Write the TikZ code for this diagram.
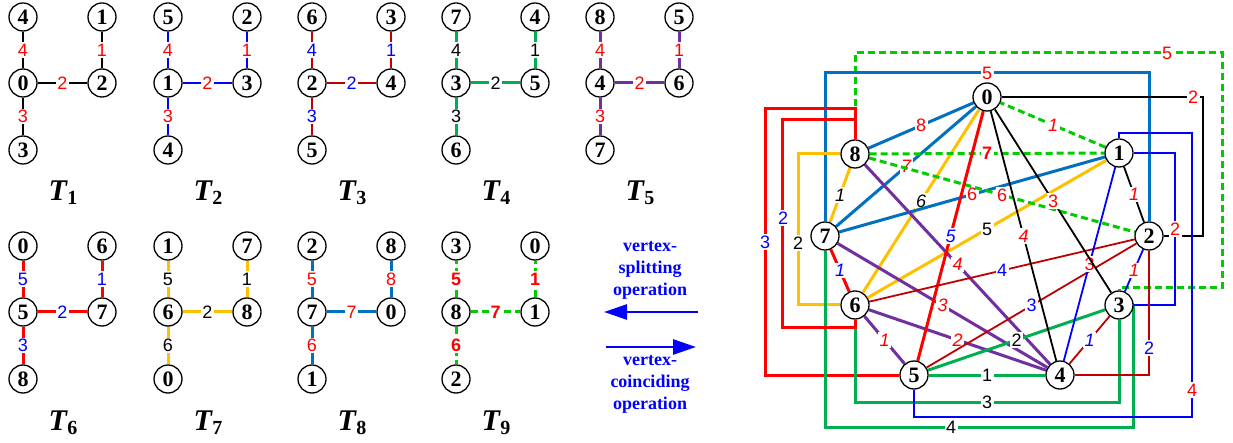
\documentclass[tikz,border=0pt]{standalone}
\usepackage{fontspec}
\setmainfont{Liberation Serif}
\newfontfamily\labfont{Liberation Sans}
\usetikzlibrary{arrows.meta,backgrounds}

\definecolor{cT2}{RGB}{0,0,255}
\definecolor{cT3}{RGB}{192,0,0}
\definecolor{cT4}{RGB}{0,176,80}
\definecolor{cT5}{RGB}{112,48,160}
\definecolor{cT6}{RGB}{255,0,0}
\definecolor{cT7}{RGB}{255,192,0}
\definecolor{cT8}{RGB}{0,112,192}
\definecolor{cT9}{RGB}{0,204,0}
\definecolor{cRed}{RGB}{255,0,0}
\definecolor{cBlue}{RGB}{0,0,255}

\tikzset{
 vtx/.style={circle,draw,line width=1.3pt,fill=white,minimum size=28pt,inner sep=0pt,font=\fontsize{22}{22}\selectfont\bfseries},
 thinE/.style={line width=1.8pt},
 thickE/.style={line width=3pt},
 trE1/.style={thinE,black},
 trE2/.style={thinE,cT2},
 trE3/.style={thinE,cT3},
 trE4/.style={thickE,cT4},
 trE5/.style={thickE,cT5},
 trE6/.style={thickE,cT6},
 trE7/.style={thickE,cT7},
 trE8/.style={thickE,cT8},
 trE9/.style={thickE,cT9,dash pattern=on 7pt off 4pt},
 lbase/.style={fill=white,inner sep=1.5pt,font=\labfont\fontsize{18}{18}\selectfont},
 trL1/.style={lbase,text=cRed},
 trL2/.style={lbase,text=cRed},
 trL3/.style={lbase,text=cBlue},
 trL4/.style={lbase,text=black},
 trL5/.style={lbase,text=cRed},
 trL6/.style={lbase,text=cBlue},
 trL7/.style={lbase,text=black},
 trL8/.style={lbase,text=cRed},
 trL9/.style={lbase,text=cRed,font=\labfont\bfseries\fontsize{18}{18}\selectfont},
 itl/.style={font=\labfont\itshape\fontsize{18}{18}\selectfont},
 upl/.style={font=\labfont\fontsize{18}{18}\selectfont},
 tlab/.style={anchor=base,inner sep=0pt},
 optxt/.style={align=center,text=cBlue,font=\bfseries\fontsize{18}{22}\selectfont},
 oparrow/.style={cBlue,line width=2.7pt,-{Triangle[length=23pt,width=15pt]}},
}

\newcommand\tsym[1]{{\fontsize{30}{30}\selectfont\bfseries\itshape T}\kern0.5pt{\fontsize{20}{20}\selectfont\bfseries\raisebox{-4pt}{#1}}}

\newcommand\treeV[8]{%
 \node[vtx] (T#1c) at (#2,#3) {#4};
 \node[vtx] (T#1a) at (#2,#3-66) {#5};
 \node[vtx] (T#1b) at (#2+79,#3) {#6};
 \node[vtx] (T#1d) at (#2,#3+67) {#7};
 \node[vtx] (T#1e) at (#2+79,#3-66) {#8};
 \node[tlab] (TL#1) at (#2+40,#3+118) {\tsym{#1}};
}
\newcommand\treeE[5]{%
 \draw[trE#1] (T#1c) -- node[trL#1]{#2} (T#1a);
 \draw[trE#1] (T#1c) -- node[trL#1]{#3} (T#1b);
 \draw[trE#1] (T#1c) -- node[trL#1]{#4} (T#1d);
 \draw[trE#1] (T#1b) -- node[trL#1]{#5} (T#1e);
}

\begin{document}
\begin{tikzpicture}[x=1pt,y=-1pt]
\useasboundingbox (0,0) rectangle (1233,443);

% ---------- trees ----------
\treeV{1}{23}{83}{0}{4}{2}{3}{1}
\treeV{2}{168}{83}{1}{5}{3}{4}{2}
\treeV{3}{312}{83}{2}{6}{4}{5}{3}
\treeV{4}{456}{83}{3}{7}{5}{6}{4}
\treeV{5}{600}{83}{4}{8}{6}{7}{5}
\treeV{6}{23}{312}{5}{0}{7}{8}{6}
\treeV{7}{168}{312}{6}{1}{8}{0}{7}
\treeV{8}{312}{312}{7}{2}{0}{1}{8}
\treeV{9}{456}{312}{8}{3}{1}{2}{0}

% ---------- big graph vertices ----------
\node[vtx] (R0) at (987,97) {0};
\node[vtx] (R1) at (1119,153) {1};
\node[vtx] (R2) at (1149,236) {2};
\node[vtx] (R3) at (1119,305) {3};
\node[vtx] (R4) at (1060,375) {4};
\node[vtx] (R5) at (914,375) {5};
\node[vtx] (R6) at (855,305) {6};
\node[vtx] (R7) at (825,236) {7};
\node[vtx] (R8) at (855,154) {8};

% ---------- operations ----------
\node[optxt] (opS) at (650,270) {vertex-\\splitting\\operation};
\node[optxt] (opC) at (650,384) {vertex-\\coinciding\\operation};
\coordinate (aS1) at (698,312);
\coordinate (aS2) at (604,312);
\coordinate (aC1) at (606,347);
\coordinate (aC2) at (696,347);
\draw[oparrow] (aS1) -- (aS2);
\draw[oparrow] (aC1) -- (aC2);

\begin{scope}[on background layer]
\fill[white] (0,0) rectangle (1233,443);
\treeE{1}{4}{2}{3}{1}
\treeE{2}{4}{2}{3}{1}
\treeE{3}{4}{2}{3}{1}
\treeE{4}{4}{2}{3}{1}
\treeE{5}{4}{2}{3}{1}
\treeE{6}{5}{2}{3}{1}
\treeE{7}{5}{2}{6}{1}
\treeE{8}{5}{7}{6}{8}
\treeE{9}{5}{7}{6}{1}

% ----- routed edges -----
\draw[trE9] (R8) |- (1222,53) -- (1222,288) -| (R3);
\node[trL9,upl] at (1167,53) {5};
\draw[trE8] (R7) |- (1149,73) -- (R2);
\node[trL8] at (987,73) {5};
\draw[trE6] (R8) |- (765,109) |- (R5);
\node[trL6] at (765,242) {3};
\draw[trE7] (R8) -| (798,305) -- (R6);
\node[trL7] at (798,243) {2};
\draw[trE4] (R7) |- (1133,427) |- (R3);
\node[trL4] at (951,427) {4};
\draw[trE4] (R6) |- (1119,402) -- (R3);
\node[trL4] at (987,402) {3};
\draw[trE6] (R8) |- (782,120) -- (782,327) -| (R6);
\node[trL6] at (783,218) {2};
\draw[trE1] (R0) -| (1203,236) -- (R2);
\node[trL1] at (1193,97) {2};
\draw[trE2] (R1) |- (1192,133) -- (1192,417) -| (R5);
\node[trL2] at (1192,390) {4};
\draw[trE2] (R1) -| (1175,305) -- (R3);
\node[trL2] at (1175,229) {2};
\draw[trE3] (R2) |- (R4);
\node[trL3] at (1149,348) {2};

% ----- straight edges -----
\draw[trE7] (R6) -- node[trL7]{5} (R1);
\draw[trE7] (R6) -- node[trL7,itl]{6} (R0);
\draw[trE7] (R8) -- node[trL7,itl]{1} (R7);
\draw[trE8] (R7) -- node[trL8,itl]{7} (R0);
\draw[trE8] (R7) -- node[trL8]{6} (R1);
\draw[trE8] (R8) -- node[trL8]{8} (R0);
\draw[trE9] (R8) -- node[trL9]{7} (R1);
\draw[trE9] (R8) -- node[trL9,upl]{6} (R2);
\draw[trE9] (R1) -- node[trL9,itl]{1} (R0);
\draw[trE5] (R8) -- node[trL5,itl]{4} (R4);
\draw[trE5] (R6) -- node[trL5,itl]{2} (R4);
\draw[trE5] (R7) -- node[trL5,itl]{3} (R4);
\draw[trE5] (R6) -- node[trL5,itl]{1} (R5);
\draw[trE4] (R5) -- node[trL4]{2} (R3);
\draw[trE4] (R5) -- node[trL4]{1} (R4);
\draw[trE6] (R5) -- node[trL6,itl]{5} (R0);
\draw[trE6] (R7) -- node[trL6,itl]{1} (R6);
\draw[trE3] (R2) -- node[trL3]{4} (R6);
\draw[trE3] (R2) -- node[trL3]{3} (R5);
\draw[trE3] (R4) -- node[trL3,itl]{1} (R3);
\draw[trE2] (R1) -- node[trL2]{3} (R4);
\draw[trE2] (R2) -- node[trL2,itl]{1} (R3);
\draw[trE1] (R0) -- node[trL1,itl]{4} (R4);
\draw[trE1] (R0) -- node[trL1]{3} (R3);
\draw[trE1] (R1) -- node[trL1,itl]{1} (R2);
\end{scope}
\end{tikzpicture}
\end{document}
